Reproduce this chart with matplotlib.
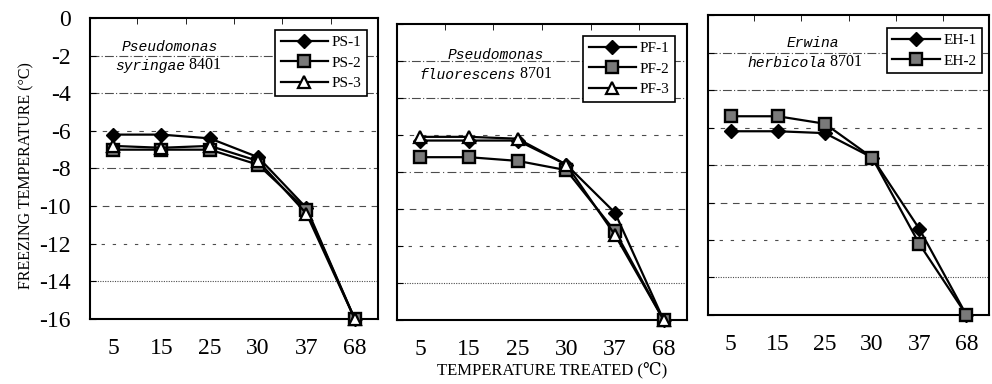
import matplotlib
matplotlib.use('Agg')
from matplotlib import pyplot as plt
import numpy as np

# temperature treated (C), shown as evenly spaced categories
x_labels = ['5', '15', '25', '30', '37', '68']
y_ticks = [0, -2, -4, -6, -8, -10, -12, -14, -16]

# Pseudomonas syringae 8401
ps1 = [-6.2, -6.2, -6.4, -7.4, -10.1, -16.0]
ps2 = [-7.0, -7.0, -7.0, -7.8, -10.2, -16.0]
ps3 = [-6.8, -6.9, -6.8, -7.6, -10.4, -16.0]

# Pseudomonas fluorescens 8701
pf1 = [-6.3, -6.3, -6.3, -7.6, -10.2, -16.0]
pf2 = [-7.2, -7.2, -7.4, -7.9, -11.2, -16.0]
pf3 = [-6.1, -6.1, -6.2, -7.6, -11.4, -16.0]

# Erwina herbicola 8701
eh1 = [-6.2, -6.2, -6.3, -7.6, -11.4, -16.0]
eh2 = [-5.4, -5.4, -5.8, -7.6, -12.2, -16.0]

SERIF = ['Liberation Serif', 'DejaVu Serif']
MONO = ['Liberation Mono', 'DejaVu Sans Mono']

# marker styles: diamond, hatched square, open triangle
STYLES = [
	dict(marker='D', ms=7, mfc='black', mec='black'),
	dict(marker='s', ms=8, mfc='#7a7a7a', mec='black', mew=1.7),
	dict(marker='^', ms=9, mfc='white', mec='black', mew=1.6),
]

# dash patterns of the faint grid lines from -2 down to -14
GRID_DASHES = [(0, (8, 2, 1, 2)), (0, (8, 2, 1, 2)), (0, (4, 7)), (0, (8, 3, 1, 3)),
			   (0, (6, 5)), (0, (3, 7)), (0, (1, 1.2))]


def species(ax, xy1, xy2, name1, name2, strain):
	ax.text(xy1[0], xy1[1], name1, transform=ax.transAxes, family=MONO,
			style='italic', fontsize=10.5, va='center', ha='left')
	t = ax.text(xy2[0], xy2[1], name2, transform=ax.transAxes, family=MONO,
				style='italic', fontsize=10.5, va='center', ha='left')
	ax.annotate(' ' + strain, xy=(1, 0), xycoords=t, va='bottom', ha='left',
				family=SERIF, fontsize=11.5)


def panel(ax, series, labels, legend_anchor, show_y):
	x = np.arange(len(x_labels))
	for i, y in enumerate(series[1:-1]):
		ax.axhline(y, color='black', lw=0.8, ls=GRID_DASHES[i], alpha=0.7, zorder=1)
	for y, lab, st in zip(series[0], labels, STYLES):
		ax.plot(x, y, color='black', lw=1.6, label=lab, zorder=3, clip_on=False, **st)
	ax.set_xlim(-0.48, len(x_labels) - 0.52)
	ax.set_ylim(-16, 0)
	ax.set_xticks(x)
	ax.set_xticklabels(x_labels, family=SERIF, fontsize=17)
	ax.set_xticks(x[:-1] + 0.5, minor=True)
	ax.set_yticks(y_ticks)
	if show_y:
		ax.set_yticklabels([str(v) if v == 0 else '-%d' % -v for v in y_ticks],
						   family=SERIF, fontsize=17)
	else:
		ax.set_yticklabels([])
	ax.tick_params(axis='x', which='major', length=0, pad=14)
	ax.tick_params(axis='x', which='minor', direction='in', top=True, bottom=False, length=4)
	ax.tick_params(axis='y', direction='in', length=4, pad=14)
	for s in ax.spines.values():
		s.set_linewidth(1.5)
		s.set_color('black')
	leg = ax.legend(loc='upper right', bbox_to_anchor=legend_anchor, prop=dict(family=SERIF, size=11),
					handlelength=3.1, handletextpad=0.25, borderpad=0.35, labelspacing=0.45,
					fancybox=False, framealpha=1, edgecolor='black', borderaxespad=0)
	leg.get_frame().set_linewidth(1.2)


fig = plt.figure(figsize=(9.92, 3.84), dpi=100)
ax1 = fig.add_axes([0.0907, 0.1693, 0.2903, 0.7839])
ax2 = fig.add_axes([0.4002, 0.1667, 0.2923, 0.7708])
ax3 = fig.add_axes([0.7137, 0.1797, 0.2833, 0.7812])

panel(ax1, [[ps1, ps2, ps3]] + y_ticks[1:], ['PS-1', 'PS-2', 'PS-3'], (0.962, 0.960), True)
panel(ax2, [[pf1, pf2, pf3]] + y_ticks[1:], ['PF-1', 'PF-2', 'PF-3'], (0.959, 0.959), False)
panel(ax3, [[eh1, eh2]] + y_ticks[1:], ['EH-1', 'EH-2'], (0.975, 0.957), False)

species(ax1, (0.111, 0.904), (0.087, 0.840), 'Pseudomonas', 'syringae', '8401')
species(ax2, (0.176, 0.895), (0.079, 0.828), 'Pseudomonas', 'fluorescens', '8701')
species(ax3, (0.281, 0.907), (0.139, 0.840), 'Erwina', 'herbicola', '8701')

fig.text(0.027, 0.544, 'FREEZING TEMPERATURE (°C)', rotation=90, family=SERIF,
		 fontsize=11.5, ha='center', va='center')
fig.text(0.557, 0.036, 'TEMPERATURE TREATED (℃)', family=SERIF, fontsize=12,
		 ha='center', va='center')

fig.savefig('out.png', dpi=100, facecolor='white')
